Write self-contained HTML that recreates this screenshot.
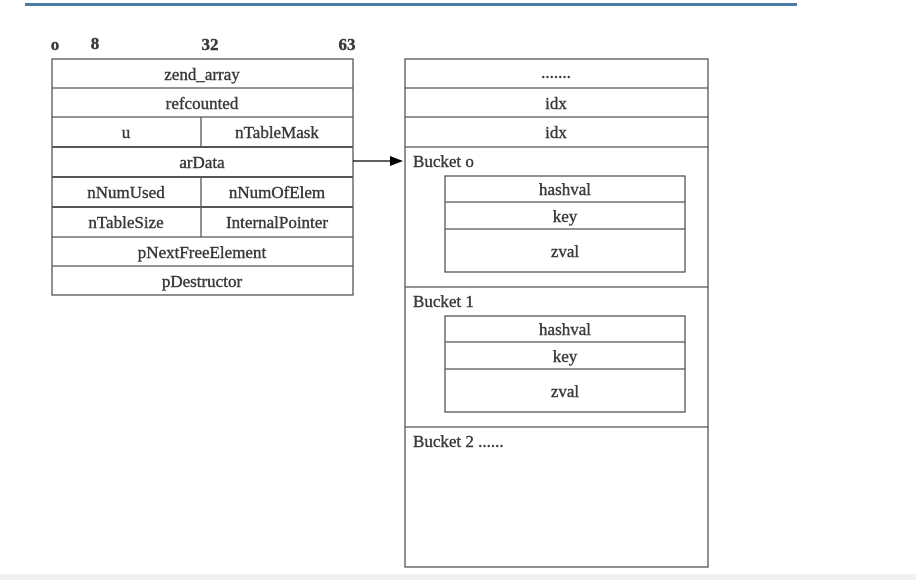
<!DOCTYPE html>
<html><head><style>body{margin:0;background:#fff}svg{display:block}</style></head><body>
<svg width="916" height="580" xmlns="http://www.w3.org/2000/svg" font-family="Liberation Serif, serif" font-size="17" fill="#3a3a3a">
<rect x="25" y="3" width="772" height="3" fill="#4b7aa6"/>
<rect x="0" y="574" width="916" height="6" fill="#f0f0f0"/>
<g stroke="#555" stroke-width="1.3" fill="none">
<rect x="52" y="59" width="301" height="236"/>
<line x1="52" y1="88" x2="353" y2="88"/><line x1="52" y1="117" x2="353" y2="117"/>
<line x1="52" y1="147" x2="353" y2="147" stroke-width="2"/><line x1="52" y1="177" x2="353" y2="177" stroke-width="2"/>
<line x1="52" y1="207" x2="353" y2="207" stroke-width="2"/><line x1="52" y1="237" x2="353" y2="237"/>
<line x1="52" y1="266" x2="353" y2="266"/>
<line x1="201" y1="117" x2="201" y2="147"/><line x1="201" y1="177" x2="201" y2="237"/>
<rect x="405" y="59" width="303" height="508"/>
<line x1="405" y1="88" x2="708" y2="88"/><line x1="405" y1="117" x2="708" y2="117"/>
<line x1="405" y1="147" x2="708" y2="147"/><line x1="405" y1="287" x2="708" y2="287"/>
<line x1="405" y1="427" x2="708" y2="427"/>
<rect x="445" y="176" width="240" height="96"/><line x1="445" y1="202" x2="685" y2="202"/><line x1="445" y1="229" x2="685" y2="229"/>
<rect x="445" y="316" width="240" height="96"/><line x1="445" y1="342" x2="685" y2="342"/><line x1="445" y1="369" x2="685" y2="369"/>
<line x1="353" y1="161" x2="392" y2="161" stroke="#000"/>
</g>
<polygon points="390,156 403,161 390,166" fill="#000"/>
<g stroke="#3a3a3a" stroke-width="0.4">
<g text-anchor="middle">
<text x="55" y="50" font-weight="bold">o</text><text x="95" y="49" font-weight="bold">8</text><text x="210" y="50" font-weight="bold">32</text><text x="347" y="50" font-weight="bold">63</text>
<text x="202" y="80">zend_array</text><text x="202" y="109">refcounted</text>
<text x="126" y="138">u</text><text x="277" y="138">nTableMask</text>
<text x="202" y="168">arData</text>
<text x="126" y="198">nNumUsed</text><text x="277" y="198">nNumOfElem</text>
<text x="126" y="228">nTableSize</text><text x="277" y="228">InternalPointer</text>
<text x="202" y="258">pNextFreeElement</text><text x="202" y="287">pDestructor</text>
<text x="556" y="78">.......</text><text x="556" y="109">idx</text><text x="556" y="138">idx</text>
<text x="565" y="195">hashval</text><text x="565" y="222">key</text><text x="565" y="257">zval</text>
<text x="565" y="335">hashval</text><text x="565" y="362">key</text><text x="565" y="397">zval</text>
</g>
<text x="413" y="167">Bucket o</text><text x="413" y="307">Bucket 1</text><text x="413" y="447">Bucket 2 ......</text>
</g>
</svg>
</body></html>
